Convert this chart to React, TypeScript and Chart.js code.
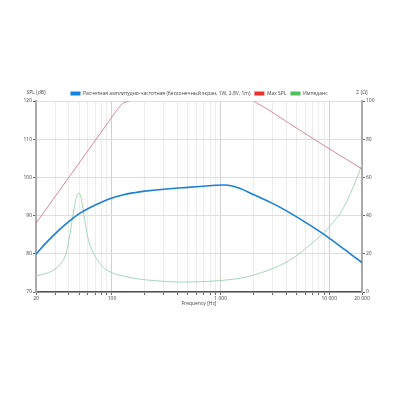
import React, { useEffect, useRef } from 'react';
import { Chart, registerables } from 'chart.js';
Chart.register(...registerables);

const splFreq = [20, 25, 32, 40, 50, 63, 80, 100, 125, 160, 200, 300, 500, 700, 900, 1100, 1250, 1400, 1600, 2000, 3000, 4000, 6000, 8000, 10000, 14000, 20000];
const splValues = [79.9, 83.0, 86.0, 88.4, 90.5, 92.1, 93.5, 94.6, 95.4, 96.0, 96.4, 96.9, 97.4, 97.7, 97.95, 98.0, 97.8, 97.4, 96.8, 95.5, 93.2, 91.3, 88.3, 86.0, 84.1, 81.0, 77.7];

const maxFreq = [20, 50, 100, 115, 125, 140, 160, 200, 1500, 2000, 5000, 10000, 20000];
const maxValues = [88, 103.8, 115.8, 118.2, 119.3, 119.9, 120.5, 121.5, 121.5, 120, 112.9, 107.5, 102.2];

const zFreq = [20, 25, 30, 35, 38, 41, 44, 47, 50, 53, 56, 60, 66, 72, 85, 103, 130, 160, 208, 300, 422, 600, 1000, 1500, 2000, 3054, 4000, 5376, 7000, 8810, 10500, 12570, 14500, 16650, 18500, 20000];
const zValues = [8.4, 9.8, 12.0, 16.0, 20.5, 30.0, 41.0, 49.5, 51.7, 47.0, 38.0, 28.5, 21.5, 17.6, 12.5, 9.8, 8.2, 7.2, 6.3, 5.6, 5.2, 5.3, 6.0, 7.2, 8.8, 12.4, 15.5, 20.3, 25.8, 30.7, 35.5, 41.2, 47.5, 55.1, 61.5, 67];

const xTickValues = [20, 30, 40, 50, 60, 70, 80, 90, 100, 200, 300, 400, 500, 600, 700, 800, 900, 1000, 2000, 3000, 4000, 5000, 6000, 7000, 8000, 9000, 10000, 20000];
const xLabelValues = [20, 100, 1000, 10000, 20000];
const xLabelTexts = ['20', '100', '1 000', '10 000', '20 000'];

const seriesNames = ['Расчетная амплитудно-частотная (бесконечный экран, 1W, 2.8V, 1m)', 'Max SPL', 'Импеданс'];
const lineColors = ['#1a7fd6', '#d98a95', '#a6d6b6'];
const legendColors = ['#0e84e6', '#ee2d2d', '#4fbf5a'];

const FONT = 'Open Sans';
const FS = 5;
const TEXT = '#444';

const toPts = (xs: number[], ys: number[]) => xs.map((x, i) => ({ x, y: ys[i] }));

export default function App() {
  const ref = useRef<HTMLCanvasElement | null>(null);
  useEffect(() => {
    if (!ref.current) return;
    const axisTitles = {
      id: 'axisTitles',
      afterDraw(chart: any) {
        const { ctx, chartArea } = chart;
        ctx.save();
        ctx.font = `${FS}px "${FONT}"`;
        ctx.fillStyle = TEXT;
        ctx.textAlign = 'center';
        ctx.textBaseline = 'middle';
        ctx.fillText('SPL [dB]', chartArea.left, 85);
        ctx.fillText('Z [Ω]', chartArea.right, 85);
        ctx.restore();
      },
    };
    const chart = new Chart(ref.current, {
      type: 'line',
      data: {
        datasets: [
          { label: seriesNames[0], data: toPts(splFreq, splValues), borderColor: lineColors[0], backgroundColor: legendColors[0], borderWidth: 1.6, pointRadius: 0, tension: 0.4, yAxisID: 'y' },
          { label: seriesNames[1], data: toPts(maxFreq, maxValues), borderColor: lineColors[1], backgroundColor: legendColors[1], borderWidth: 1, pointRadius: 0, cubicInterpolationMode: 'monotone', yAxisID: 'y' },
          { label: seriesNames[2], data: toPts(zFreq, zValues), borderColor: lineColors[2], backgroundColor: legendColors[2], borderWidth: 1, pointRadius: 0, cubicInterpolationMode: 'monotone', yAxisID: 'z' },
        ],
      },
      options: {
        animation: false,
        responsive: true,
        maintainAspectRatio: false,
        layout: { padding: { top: 79, bottom: 81, left: 0, right: 0 } },
        plugins: {
          legend: {
            position: 'top',
            maxHeight: 14,
            labels: {
              font: { family: FONT, size: FS },
              color: TEXT,
              boxWidth: 10,
              boxHeight: 4,
              padding: 4,
              generateLabels: (c: any) =>
                c.data.datasets.map((d: any, i: number) => ({
                  text: d.label,
                  fillStyle: legendColors[i],
                  strokeStyle: legendColors[i],
                  lineWidth: 0,
                  fontColor: TEXT,
                  datasetIndex: i,
                  hidden: false,
                })),
            },
          },
          tooltip: { enabled: false },
        },
        scales: {
          x: {
            type: 'logarithmic',
            min: 20,
            max: 20000,
            afterBuildTicks: (s: any) => { s.ticks = xTickValues.map((v) => ({ value: v })); },
            afterFit: (s: any) => { s.height = 19; },
            ticks: {
              autoSkip: false,
              maxRotation: 0,
              padding: 1,
              font: { family: FONT, size: FS },
              color: TEXT,
              callback: (v: any) => {
                const i = xLabelValues.indexOf(Number(v));
                return i >= 0 ? xLabelTexts[i] : '';
              },
            },
            grid: {
              color: (c: any) => {
                const v = c.tick ? c.tick.value : 0;
                const lg = Math.log10(v);
                return Math.abs(lg - Math.round(lg)) < 1e-6 ? '#d0d0d0' : '#ececec';
              },
              tickColor: '#666',
              tickLength: 3,
            },
            border: { color: '#555', width: 1.5 },
            title: { display: true, text: 'Frequency [Hz]', font: { family: FONT, size: FS }, color: TEXT, padding: { top: 2, bottom: 4 } },
          },
          y: {
            position: 'left',
            min: 70,
            max: 120,
            afterFit: (s: any) => { s.width = 28; },
            ticks: { stepSize: 10, padding: 1, font: { family: FONT, size: FS }, color: TEXT },
            grid: { color: '#dedede', tickColor: '#666', tickLength: 3 },
            border: { color: '#aaa', width: 2 },
          },
          z: {
            position: 'right',
            min: 0,
            max: 100,
            afterFit: (s: any) => { s.width = 28; },
            ticks: { stepSize: 20, padding: 1, font: { family: FONT, size: FS }, color: TEXT },
            grid: { drawOnChartArea: false, tickColor: '#666', tickLength: 3 },
            border: { color: '#aaa', width: 2 },
          },
        },
      },
      plugins: [axisTitles],
    } as any);
    return () => chart.destroy();
  }, []);
  return (
    <div style={{ position: 'relative', width: 382, height: 384 }}>
      <canvas ref={ref} />
    </div>
  );
}
